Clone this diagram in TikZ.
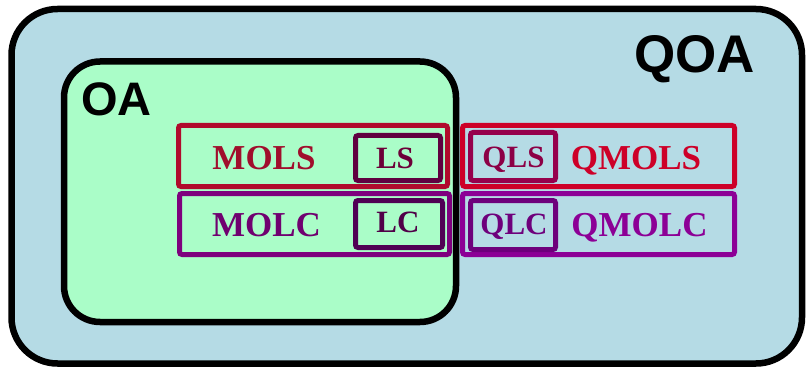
\documentclass[tikz,border=0pt]{standalone}
\usepackage{fontspec}
\setmainfont{Liberation Serif}
\newfontfamily\hsans{Liberation Sans}
\definecolor{bgblue}{HTML}{B5DBE5}
\definecolor{oagreen}{HTML}{AAFDC8}
\definecolor{colMOLS}{RGB}{176,10,44}
\definecolor{colMOLStx}{RGB}{160,14,44}
\definecolor{colLS}{RGB}{96,0,64}
\definecolor{colLStx}{RGB}{108,0,56}
\definecolor{colMOLC}{RGB}{126,0,126}
\definecolor{colMOLCtx}{RGB}{112,0,112}
\definecolor{colLC}{RGB}{80,0,84}
\definecolor{colLCtx}{RGB}{80,0,72}
\definecolor{colQMOLS}{RGB}{205,0,40}
\definecolor{colQLS}{RGB}{150,0,76}
\definecolor{colQLStx}{RGB}{140,0,70}
\definecolor{colQMOLC}{RGB}{140,0,150}
\definecolor{colQLC}{RGB}{110,0,124}
\tikzset{
  setbox/.style={draw=black, line width=6.5pt, rectangle, inner sep=0pt},
  rowbox/.style={draw=#1, line width=5pt, rectangle, rounded corners=2.5pt, inner sep=0pt, minimum height=61pt},
  bigtext/.style={font=\fontsize{35}{35}\selectfont\bfseries, text=#1, inner sep=0pt, text height=23.2pt, text depth=0pt},
  smalltext/.style={font=\fontsize{31}{31}\selectfont\bfseries, text=#1, inner sep=0pt, text height=20.5pt, text depth=0pt},
  settext/.style={font=\hsans\bfseries\fontsize{#1}{#1}\selectfont, inner sep=0pt, text height=0.716*#1 pt, text depth=0pt}
}
\begin{document}
\begin{tikzpicture}[x=1pt,y=-1pt]
\useasboundingbox (0,0) rectangle (807,369);
\fill[white] (0,0) rectangle (807,369);
% outer QOA set
\node[setbox, fill=bgblue, rounded corners=46pt, minimum width=790.5pt, minimum height=354.5pt] (qoa) at (406.75,186.25) {};
% OA set
\node[setbox, fill=oagreen, rounded corners=36pt, minimum width=392pt, minimum height=260.5pt] (oa) at (260,191.75) {};
\node[settext=47] (oalabel) at (116.5,98.5) {OA};
\node[settext=53] (qoalabel) at (694.5,53.5) {QOA};
% rows
\node[rowbox=colMOLS, minimum width=269pt] (mols) at (313,156) {};
\node[rowbox=colMOLC, minimum width=270pt] (molc) at (314.5,224) {};
\node[rowbox=colQMOLS, minimum width=272pt] (qmols) at (598.5,156) {};
\node[rowbox=colQMOLC, minimum width=272pt] (qmolc) at (598.5,224) {};
% inner small boxes
\node[rowbox=colLS, minimum width=85pt, minimum height=45pt] (ls) at (398,158) {};
\node[rowbox=colLC, minimum width=87pt, minimum height=47pt] (lc) at (399,224) {};
\node[rowbox=colQLS, minimum width=85pt, minimum height=48pt] (qls) at (513,156.5) {};
\node[rowbox=colQLC, minimum width=85pt, minimum height=49pt] (qlc) at (513,225) {};
% labels
\node[bigtext=colMOLStx] (molstx) at (264,157.5) {MOLS};
\node[bigtext=colMOLCtx] (molctx) at (266.5,224.5) {MOLC};
\node[smalltext=colLStx] (lstx) at (395,158) {LS};
\node[smalltext=colLCtx] (lctx) at (398,222.5) {LC};
\node[smalltext=colQLStx] (qlstx) at (513.5,157.5) {QLS};
\node[bigtext=colQMOLS] (qmolstx) at (636,157.5) {QMOLS};
\node[smalltext=colQLC] (qlctx) at (514,224.5) {QLC};
\node[bigtext=colQMOLC] (qmolctx) at (639.5,224.5) {QMOLC};
\end{tikzpicture}
\end{document}
